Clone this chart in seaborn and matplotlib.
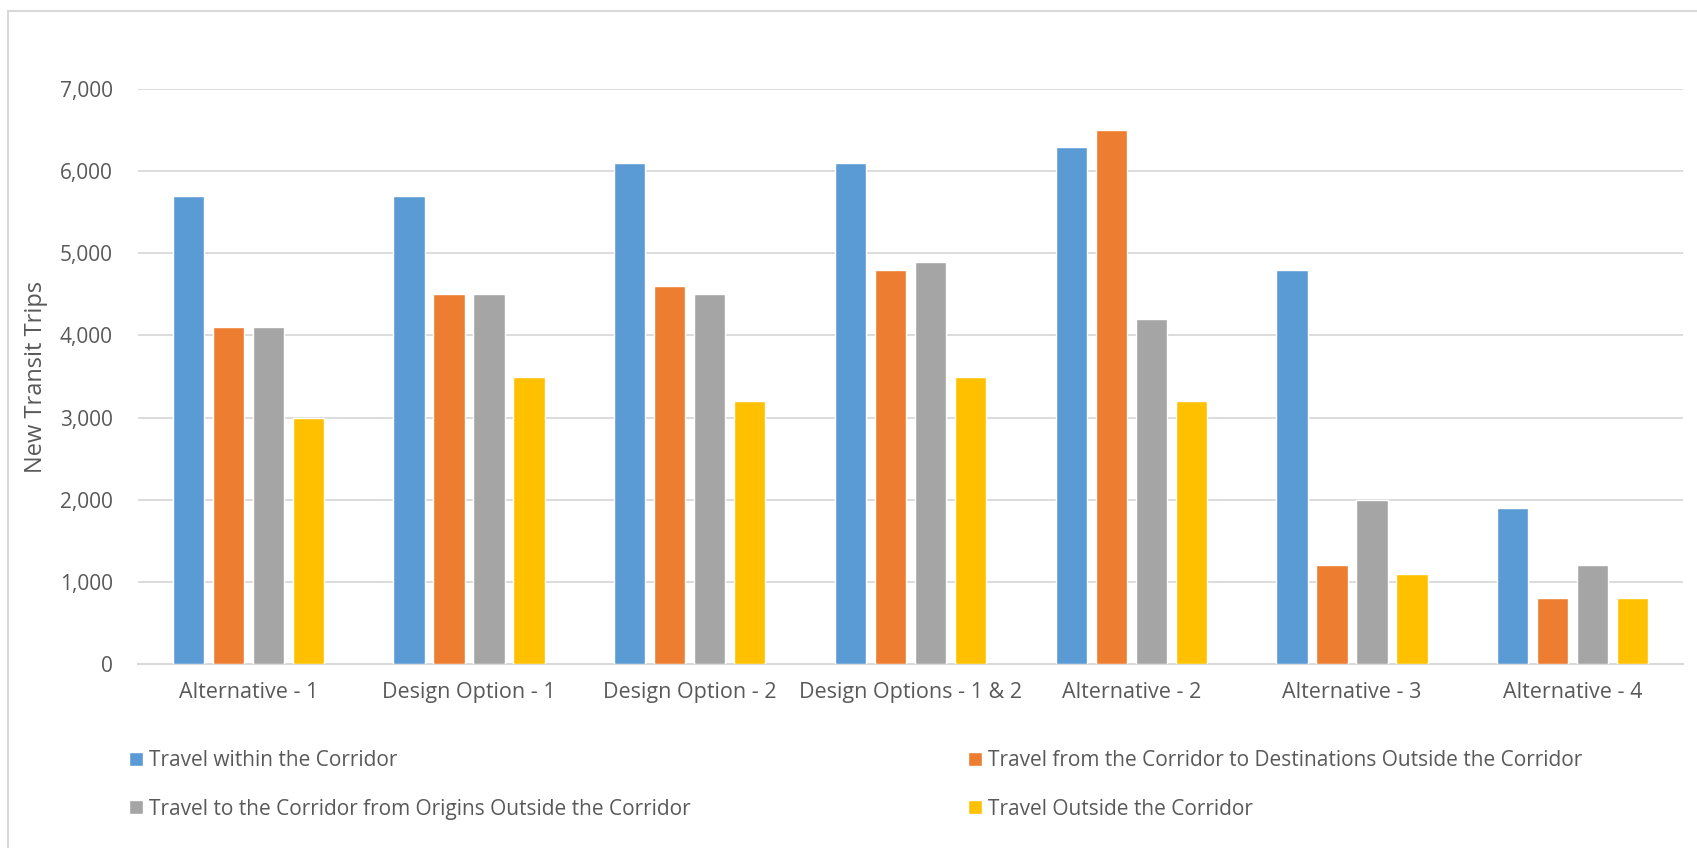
import matplotlib
matplotlib.use("Agg")
import matplotlib.pyplot as plt
import seaborn as sns
import pandas as pd
from matplotlib.lines import Line2D

categories = ["Alternative - 1", "Design Option - 1", "Design Option - 2",
              "Design Options - 1 & 2", "Alternative - 2", "Alternative - 3", "Alternative - 4"]
series_names = ["Travel within the Corridor",
                "Travel from the Corridor to Destinations Outside the Corridor",
                "Travel to the Corridor from Origins Outside the Corridor",
                "Travel Outside the Corridor"]
within = [5700, 5700, 6100, 6100, 6300, 4800, 1900]
from_corr = [4100, 4500, 4600, 4800, 6500, 1200, 800]
to_corr = [4100, 4500, 4500, 4900, 4200, 2000, 1200]
outside = [3000, 3500, 3200, 3500, 3200, 1100, 800]
colors = ["#5B9BD5", "#ED7D31", "#A5A5A5", "#FFC000"]
yticks = [0, 1000, 2000, 3000, 4000, 5000, 6000, 7000]

rows = []
for name, vals in zip(series_names, [within, from_corr, to_corr, outside]):
    for c, v in zip(categories, vals):
        rows.append({"cat": c, "series": name, "value": v})
df = pd.DataFrame(rows)

sns.set_theme(style="white")
plt.rcParams["font.family"] = ["Open Sans", "DejaVu Sans"]
txt = "#595959"
grid = "#D9D9D9"

fig = plt.figure(figsize=(16.97, 8.48), dpi=100)
ax = fig.add_axes([138/1697, 1-664/848, (1683-138)/1697, (664-89)/848])

sns.barplot(data=df, x="cat", y="value", hue="series", order=categories,
            hue_order=series_names, palette=colors, width=0.725, gap=0.22,
            saturation=1, ax=ax, legend=True, zorder=3)

ax.set_ylim(0, 7000)
ax.set_xlim(-0.5, len(categories) - 0.5)
ax.set_yticks(yticks)
ax.set_yticklabels([f"{v:,}" for v in yticks])
ax.yaxis.grid(True, color=grid, linewidth=1.3, zorder=0)
ax.set_axisbelow(True)
for s in ["top", "right", "left"]:
    ax.spines[s].set_visible(False)
ax.spines["bottom"].set_color(grid)
ax.spines["bottom"].set_linewidth(1.5)
ax.tick_params(axis="y", length=0, pad=18, labelsize=15, labelcolor=txt)
ax.tick_params(axis="x", length=0, pad=13, labelsize=15.5, labelcolor=txt)
ax.set_xlabel("")
ax.set_ylabel("New Transit Trips", fontsize=17, color=txt)
ax.yaxis.set_label_coords((48-138)/1545, 0.5)

handles, labels = ax.get_legend_handles_labels()
ax.get_legend().remove()
hmap = dict(zip(labels, handles))

leg_kw = dict(loc="center left", frameon=False, fontsize=15, labelcolor=txt,
              handlelength=0.65, handleheight=0.65, handletextpad=0.3,
              labelspacing=1.3, borderaxespad=0, borderpad=0.3)
fig.legend([hmap[series_names[0]], hmap[series_names[2]]],
           [series_names[0], series_names[2]],
           bbox_to_anchor=(123/1697, 1-785/848), **leg_kw)
fig.legend([hmap[series_names[1]], hmap[series_names[3]]],
           [series_names[1], series_names[3]],
           bbox_to_anchor=(962/1697, 1-785/848), **leg_kw)

fig.add_artist(Line2D([8/1697, 8/1697], [0, 1-11/848], transform=fig.transFigure,
                      color=grid, linewidth=1.5))
fig.add_artist(Line2D([8/1697, 1], [1-11/848, 1-11/848], transform=fig.transFigure,
                      color=grid, linewidth=1.5))

fig.savefig("out.png", dpi=100, facecolor="white")
